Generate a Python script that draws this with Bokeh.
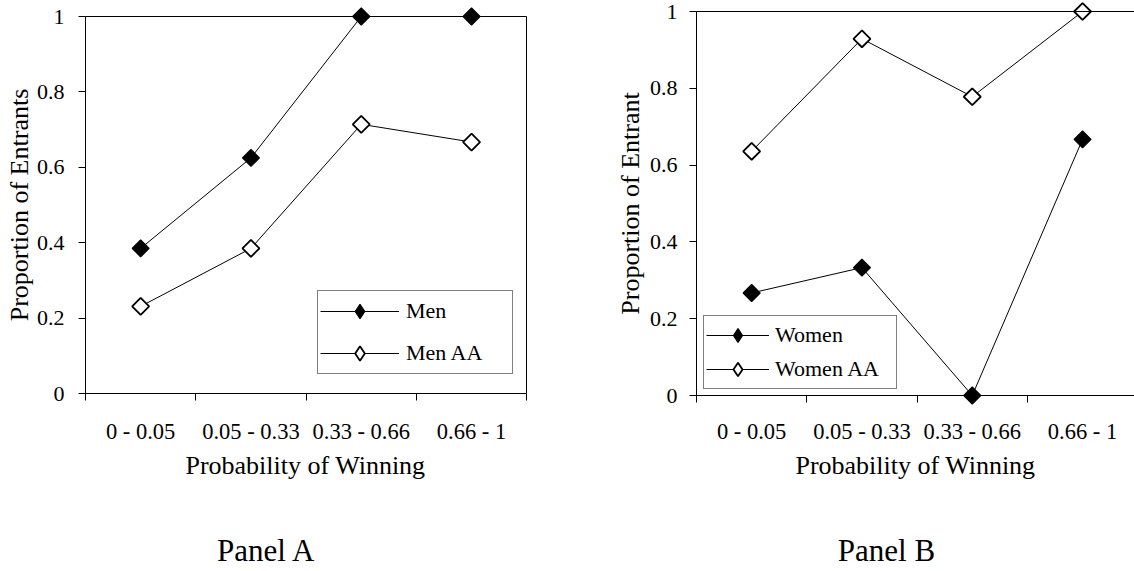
import math
from bokeh.plotting import figure
from bokeh.layouts import row
from bokeh.models import Range1d, FixedTicker, LinearAxis, Legend, LegendItem, Label
from bokeh.embed import file_html
from bokeh.resources import INLINE

# ---------------- data ----------------
categories = ["0 - 0.05", "0.05 - 0.33", "0.33 - 0.66", "0.66 - 1"]
men = [0.385, 0.625, 1.0, 1.0]
men_aa = [0.231, 0.385, 0.714, 0.667]
women = [0.267, 0.333, 0.0, 0.667]
women_aa = [0.636, 0.929, 0.778, 1.0]
y_ticks = [0, 0.2, 0.4, 0.6, 0.8, 1.0]
y_tick_labels = ["0", "0.2", "0.4", "0.6", "0.8", "1"]
x_title = "Probability of Winning"

FONT = "Liberation Serif"
H = 571
UNIT_X = 110.3


def text_at(p, text, px, py, size, angle=0.0):
    # px, py: pixel position inside this figure, measured from its top-left corner
    p.add_layout(Label(x=px, y=H - py, x_units="screen", y_units="screen", text=text,
                       angle=angle, text_align="center", text_baseline="middle",
                       text_font=FONT, text_font_size=size, text_color="black"))


def make_panel(series, ylabel, ptitle, fig_w, left, y1, y0,
               legend_px, legend_cfg, caption_x, xtitle_x, ytitle_x,
               tick_standoff, xlab_standoff, right_border):
    n = len(categories)
    xs = [i + 0.5 for i in range(n)]
    unit = y0 - y1
    p = figure(width=fig_w, height=H, title=None,
               x_range=Range1d(-left / UNIT_X, (fig_w - left) / UNIT_X),
               y_range=Range1d(-(H - y0) / unit, 1 + y1 / unit),
               output_backend="svg", toolbar_location=None,
               min_border_left=0, min_border_right=0, min_border_top=0, min_border_bottom=0,
               outline_line_color=None, background_fill_color="white",
               border_fill_color="white")
    p.grid.visible = False

    # x axis at y = 0: labels at category centres, tick marks between categories
    xa = p.xaxis[0]
    xa.fixed_location = 0
    xa.bounds = (0, n)
    xa.ticker = FixedTicker(ticks=xs, minor_ticks=list(range(n + 1)))
    xa.major_label_overrides = {x: c for x, c in zip(xs, categories)}
    xa.major_tick_in = 0
    xa.minor_tick_in = 0
    xa.major_tick_out = 7
    xa.minor_tick_out = 7
    xa.major_tick_line_color = None
    xa.minor_tick_line_color = "black"
    xa.axis_line_color = "black"
    xa.major_label_standoff = xlab_standoff
    xa.major_label_text_font = FONT
    xa.major_label_text_font_size = "22.5px"
    xa.major_label_text_color = "black"

    # y axis at x = 0
    ya = p.yaxis[0]
    ya.fixed_location = 0
    ya.bounds = (0, 1)
    ya.ticker = FixedTicker(ticks=y_ticks, minor_ticks=[])
    ya.major_label_overrides = {t: s for t, s in zip(y_ticks, y_tick_labels)}
    ya.major_tick_out = 7
    ya.major_tick_in = 0
    ya.major_tick_line_color = "black"
    ya.axis_line_color = "black"
    ya.major_label_standoff = tick_standoff
    ya.major_label_text_font = FONT
    ya.major_label_text_font_size = "22px"
    ya.major_label_text_color = "black"

    # plot-area frame: top line (and right line for panel A)
    top_line = LinearAxis(ticker=FixedTicker(ticks=[], minor_ticks=[]), fixed_location=1,
                          bounds=(0, n), major_tick_out=0, major_tick_in=0,
                          minor_tick_out=0, minor_tick_in=0, axis_line_color="black")
    p.add_layout(top_line, "above")
    if right_border:
        rb = LinearAxis(ticker=FixedTicker(ticks=[], minor_ticks=[]), fixed_location=n,
                        bounds=(0, 1), major_tick_out=0, major_tick_in=0,
                        minor_tick_out=0, minor_tick_in=0, axis_line_color="black")
        p.add_layout(rb, "right")

    # titles
    text_at(p, x_title, xtitle_x, 465, "26px")
    text_at(p, ylabel, ytitle_x, (y0 + y1) / 2, "26px", angle=math.pi / 2)
    text_at(p, ptitle, caption_x, 550, "31px")

    items = []
    for name, vals, filled in series:
        fill = "black" if filled else "white"
        lw = 1.2 if filled else 1.8
        rl = p.line(xs, vals, line_color="black", line_width=1)
        p.scatter(xs, vals, marker="square", angle=math.pi / 4, size=12,
                  fill_color=fill, line_color="black", line_width=lw)
        # legend-only marker (Bokeh legends ignore marker angle)
        rk = p.scatter(xs, vals, marker="diamond", size=12, fill_color=fill,
                       line_color="black", line_width=lw, visible=False)
        items.append(LegendItem(label=name, renderers=[rl, rk]))

    lx, lb = legend_px
    leg = Legend(items=items, location=(lx, H - lb), border_line_color="black",
                 border_line_width=1, background_fill_color="white",
                 background_fill_alpha=1, label_text_font=FONT,
                 label_text_font_size="22px", label_text_color="black",
                 inactive_fill_alpha=0, margin=0, **legend_cfg)
    p.add_layout(leg, "center")
    return p


pa = make_panel([("Men", men, True), ("Men AA", men_aa, False)],
                "Proportion of Entrants", "Panel A", 570, 85, 16, 393,
                (317, 374),
                dict(padding=2, spacing=6, glyph_width=79, glyph_height=36,
                     label_height=36, label_width=104, label_standoff=7),
                266, 305, 19, 14, 18, True)

pb = make_panel([("Women", women, True), ("Women AA", women_aa, False)],
                "Proportion of Entrant", "Panel B", 564, 126, 11, 395,
                (133, 389),
                dict(padding=2, spacing=0, glyph_width=63, glyph_height=34,
                     label_height=34, label_width=119, label_standoff=6),
                316, 345, 60, 12, 16, False)

layout = row(pa, pb)
open("out.html", "w").write(file_html(layout, INLINE))
